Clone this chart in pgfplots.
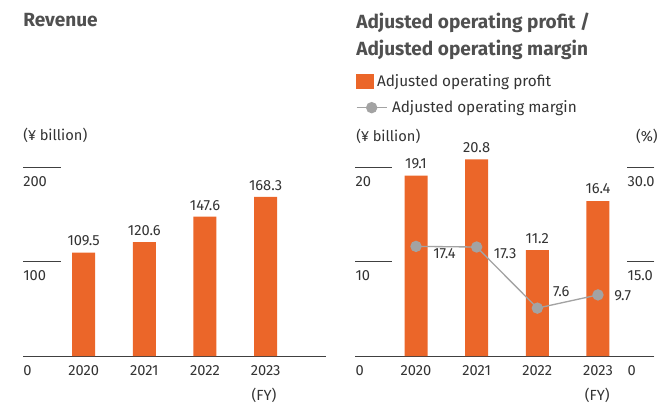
\documentclass[border=0pt]{standalone}
\usepackage{pgfplots}
\pgfplotsset{compat=1.18}
\usepackage{fontspec}
\setmainfont{Fira Sans}
\definecolor{bar}{HTML}{EB6629}
\definecolor{mline}{HTML}{A3A3A3}
\definecolor{txt}{HTML}{333333}
\definecolor{ttl}{HTML}{505050}
\definecolor{axl}{HTML}{404040}
\newcommand{\nf}{\fontsize{11}{13}\selectfont}
\newcommand{\lf}{\fontsize{11.5}{13}\selectfont}
\newcommand{\tf}{\fontsize{14.3}{17}\selectfont\bfseries}
\pgfplotsset{
  common/.style={
    scale only axis, height=141.75pt, clip=false,
    /pgf/number format/assume math mode=true,
    tick label style={font=\nf, text=txt, inner sep=0pt},
  }
}
\begin{document}
\begin{tikzpicture}
\path[use as bounding box] (0,0) rectangle (495pt,-303pt);
% ---------- Revenue ----------
\begin{axis}[common,
  at={(17.25pt,-267pt)}, anchor=south west,
  width=227.5pt,
  xmin=-1, xmax=4, ymin=0, ymax=200,
  axis x line=bottom, axis y line=left,
  axis line style={-, draw=axl, line width=0.75pt},
  y axis line style={draw=none},
  tick align=inside,
  xtick={0,1,2,3}, xticklabels={2020,2021,2022,2023},
  xtick style={draw=none},
  ytick={0,100,200}, yticklabels={0,100,200},
  major tick length=28.5pt,
  ytick style={draw=axl, line width=0.75pt},
  yticklabel style={anchor=north west, yshift=-6.75pt},
  xticklabel style={anchor=north, yshift=21.75pt},
  ybar, bar width=17.25pt,
  point meta=explicit symbolic,
  nodes near coords=\pgfplotspointmeta,
  every node near coord/.append style={font=\nf, text=txt, anchor=south, inner sep=0pt, yshift=4.5pt},
]
\addplot[fill=bar, draw=none] coordinates {(0,109.5)[109.5] (1,120.6)[120.6] (2,147.6)[147.6] (3,168.3)[168.3]};
\end{axis}
% ---------- Profit bars ----------
\begin{axis}[common,
  at={(266.5pt,-267pt)}, anchor=south west,
  width=224.3pt,
  xmin=-1, xmax=3.93, ymin=0, ymax=20,
  axis x line=bottom, axis y line=left,
  axis line style={-, draw=axl, line width=0.75pt},
  y axis line style={draw=none},
  tick align=inside,
  xtick={0,1,2,3}, xticklabels={2020,2021,2022,2023},
  xtick style={draw=none},
  ytick={0,10,20}, yticklabels={0,10,20},
  major tick length=27.75pt,
  ytick style={draw=axl, line width=0.75pt},
  yticklabel style={anchor=north west, yshift=-6.75pt},
  xticklabel style={anchor=north, yshift=21pt},
  ybar, bar width=17.25pt,
  point meta=explicit symbolic,
  nodes near coords=\pgfplotspointmeta,
  every node near coord/.append style={font=\nf, text=txt, anchor=south, inner sep=0pt, yshift=5pt},
  legend style={at={(axis description cs:0.0023,1.452)}, anchor=west, draw=none, fill=none,
    inner sep=0pt, outer sep=0pt, font=\lf, text=txt, nodes={inner sep=0pt}},
  legend image code/.code={\fill[bar] (0pt,-5.6pt) rectangle (13.5pt,5.6pt); \path (15.75pt,0pt);},
]
\addplot[fill=bar, draw=none] coordinates {(0,19.1)[19.1] (1,20.8)[20.8] (2,11.2)[11.2] (3,16.4)[16.4]};
\addlegendentry{Adjusted operating profit}
\end{axis}
% ---------- Margin line ----------
\begin{axis}[common,
  at={(266.5pt,-267pt)}, anchor=south west,
  width=224.3pt,
  xmin=-1, xmax=3.93, ymin=0, ymax=30,
  hide x axis,
  axis y line=right,
  axis line style={-}, y axis line style={draw=none},
  tick align=inside,
  ytick={0,15,30}, yticklabels={0,15.0,30.0},
  major tick length=20.25pt,
  ytick style={draw=axl, line width=0.75pt},
  yticklabel style={anchor=north west, xshift=-20.25pt, yshift=-6.75pt},
  legend style={at={(axis description cs:0.0023,1.314)}, anchor=west, draw=none, fill=none,
    inner sep=0pt, outer sep=0pt, font=\lf, text=txt, nodes={inner sep=0pt}},
  legend image code/.code={\draw[mline, line width=1pt] (0pt,0pt) -- (22.5pt,0pt); \fill[mline] (11.25pt,0pt) circle (3.75pt); \path (26pt,0pt);},
]
\addplot[mline, line width=1pt, mark=*, mark size=3.75pt, mark options={fill=mline, draw=mline}] coordinates {(0,17.4) (1,17.3) (2,7.6) (3,9.7)};
\addlegendentry{Adjusted operating margin}
\node[font=\nf, text=txt, inner sep=0pt, anchor=north west, xshift=12.75pt, yshift=-1.1pt] at (axis cs:0,17.4) {17.4};
\node[font=\nf, text=txt, inner sep=0pt, anchor=north west, xshift=12.75pt, yshift=-1.1pt] at (axis cs:1,17.3) {17.3};
\node[font=\nf, text=txt, inner sep=0pt, anchor=south west, xshift=11.6pt, yshift=8.25pt] at (axis cs:2,7.6) {7.6};
\node[font=\nf, text=txt, inner sep=0pt, anchor=west, xshift=12pt, yshift=-0.8pt] at (axis cs:3,9.7) {9.7};
\end{axis}
% ---------- texts ----------
\node[anchor=base west, inner sep=0pt, font=\tf, text=ttl] at (17.25pt,-20pt) {Revenue};
\node[anchor=base west, inner sep=0pt, font=\tf, text=ttl] at (267pt,-21.2pt) {Adjusted operating profit /};
\node[anchor=base west, inner sep=0pt, font=\tf, text=ttl] at (267pt,-41.25pt) {Adjusted operating margin};
\node[anchor=base west, inner sep=0pt, font=\nf, text=txt] at (17.25pt,-105pt) {(¥ billion)};
\node[anchor=base west, inner sep=0pt, font=\nf, text=txt] at (267pt,-105.75pt) {(¥ billion)};
\node[anchor=base east, inner sep=0pt, font=\nf, text=txt] at (493.5pt,-105.75pt) {(\%)};
\node[anchor=base, inner sep=0pt, font=\nf, text=txt] at (198pt,-300pt) {(FY)};
\node[anchor=base, inner sep=0pt, font=\nf, text=txt] at (448pt,-300pt) {(FY)};
\end{tikzpicture}
\end{document}
